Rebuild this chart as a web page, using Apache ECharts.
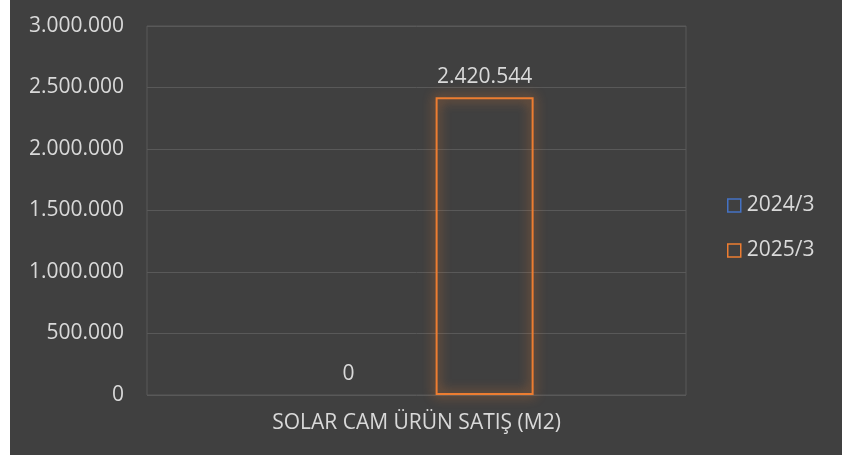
<!DOCTYPE html>
<html>
<head>
<meta charset="utf-8">
<script src="https://cdn.jsdelivr.net/npm/echarts@6/dist/echarts.min.js"></script>
<style>
  body { margin: 0; background: #ffffff; }
  #chart { position: absolute; left: 10px; top: 0; width: 832px; height: 455px; background: #404040; }
</style>
</head>
<body>
<div id="chart"></div>
<script>
const categories = ['SOLAR CAM ÜRÜN SATIŞ (M2)'];
const seriesNames = ['2024/3', '2025/3'];
const values2024 = [0];
const values2025 = [2420544];
const colors = ['#4472C4', '#ED7D31'];

const chart = echarts.init(document.getElementById('chart'));

function fmt(v) {
    return String(v).replace(/\B(?=(\d{3})+(?!\d))/g, '.');
}

function makeSeries(name, data, color) {
    return {
        name: name,
        type: 'bar',
        // a zero bar shows no outline
        data: data.map(v => v === 0 ? { value: v, itemStyle: { borderWidth: 0, shadowBlur: 0 } } : v),
        barWidth: 98,
        barGap: '39%',
        itemStyle: {
            color: 'rgba(0,0,0,0)',
            borderColor: color,
            borderWidth: 2,
            shadowColor: color,
            shadowBlur: 12
        },
        label: {
            show: true,
            position: 'top',
            distance: 10,
            color: '#d9d9d9',
            fontSize: 21,
            fontFamily: 'Open Sans',
            formatter: p => fmt(p.value)
        }
    };
}

chart.setOption({
    animation: false,
    grid: {
        left: 137,
        right: 156,
        top: 26,
        bottom: 60,
        show: true,
        borderColor: '#595959',
        borderWidth: 1
    },
    legend: {
        orient: 'vertical',
        left: 712,
        top: 190,
        itemGap: 24,
        itemWidth: 13,
        itemHeight: 13,
        icon: 'rect',
        textStyle: { color: '#d9d9d9', fontSize: 21, fontFamily: 'Open Sans', padding: [0, 0, 0, 1] },
        data: seriesNames.map((n, i) => ({
            name: n,
            itemStyle: { color: 'rgba(0,0,0,0)', borderColor: colors[i], borderWidth: 1.5, shadowBlur: 0 }
        }))
    },
    xAxis: {
        type: 'category',
        data: categories,
        axisLine: { show: false },
        axisTick: { show: false },
        axisLabel: { color: '#d9d9d9', fontSize: 21, fontFamily: 'Open Sans', margin: 18 }
    },
    yAxis: {
        type: 'value',
        min: 0,
        max: 3000000,
        interval: 500000,
        axisLine: { show: false },
        axisTick: { show: false },
        splitLine: { lineStyle: { color: '#595959', width: 1 } },
        axisLabel: {
            color: '#d9d9d9',
            fontSize: 21,
            fontFamily: 'Open Sans',
            margin: 23,
            formatter: v => fmt(v)
        }
    },
    series: [
        makeSeries(seriesNames[0], values2024, colors[0]),
        makeSeries(seriesNames[1], values2025, colors[1])
    ]
});
</script>
</body>
</html>
